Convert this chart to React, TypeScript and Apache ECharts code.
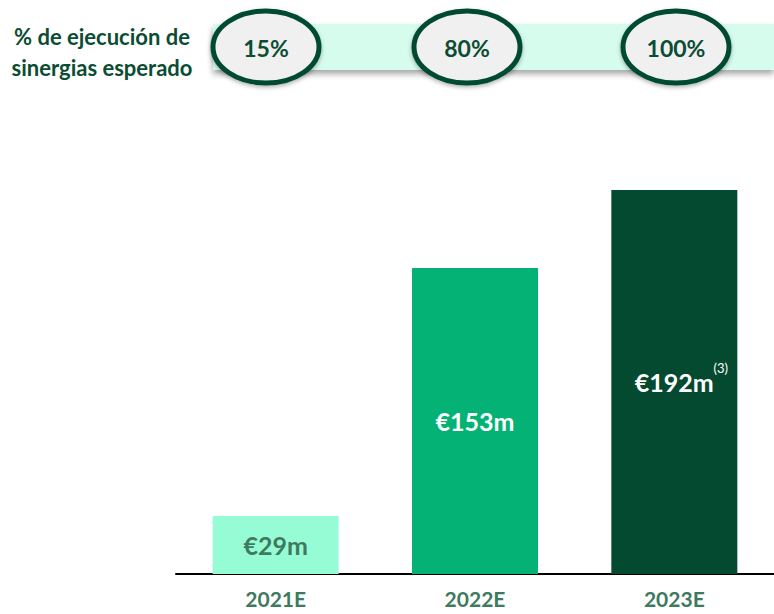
import React, { useEffect, useRef } from "react";
import * as echarts from "echarts";

const categories = ["2021E", "2022E", "2023E"];
const values = [29, 153, 192];
const labels = ["€29m", "€153m", "€192m"];
const footnotes = ["", "", "(3)"];
const barColors = ["#96FCD6", "#05B276", "#044A30"];
const labelColors = ["#3F7A5E", "#FFFFFF", "#FFFFFF"];
const executionPct = ["15%", "80%", "100%"];
const executionTitle = ["% de ejecución de", "sinergias esperado"];

const FONT = "Lato, 'Noto Sans', sans-serif";

export default function App() {
  const ref = useRef<HTMLDivElement>(null);
  useEffect(() => {
    if (!ref.current) return;
    const chart = echarts.init(ref.current, null, { renderer: "svg" });
    const ellipseX = [266, 467, 676];
    const graphics: any[] = [
      {
        type: "rect",
        shape: { x: 213, y: 24, width: 561, height: 46 },
        style: {
          fill: "#D6FCEE",
          shadowBlur: 6,
          shadowOffsetY: 4,
          shadowColor: "rgba(0,0,0,0.35)",
        },
        z: 1,
      },
      {
        type: "text",
        x: 102,
        y: 52,
        style: {
          text: executionTitle.join("\n"),
          font: `bold 22px ${FONT}`,
          fill: "#0B4D33",
          align: "center",
          verticalAlign: "middle",
          lineHeight: 31,
        },
        z: 3,
      },
    ];
    executionPct.forEach((p, i) => {
      graphics.push({
        type: "ellipse",
        shape: { cx: ellipseX[i], cy: 47, rx: 53, ry: 36 },
        style: {
          fill: "#F0F0F0",
          stroke: "#044A30",
          lineWidth: 5,
          shadowBlur: 4,
          shadowOffsetY: 2,
          shadowColor: "rgba(0,0,0,0.3)",
        },
        z: 2,
      });
      graphics.push({
        type: "text",
        x: ellipseX[i],
        y: 48,
        style: {
          text: p,
          font: `bold 23px ${FONT}`,
          fill: "#0B4D33",
          align: "center",
          verticalAlign: "middle",
        },
        z: 3,
      });
    });

    chart.setOption({
      animation: false,
      grid: { left: 176, right: 0, top: 190, bottom: 40, containLabel: false },
      xAxis: {
        type: "category",
        data: categories,
        axisLine: { show: true, lineStyle: { color: "#000", width: 2 } },
        axisTick: { show: false },
        axisLabel: {
          margin: 14,
          fontFamily: FONT,
          fontWeight: "bold",
          fontSize: 21,
          color: "#3D7A5E",
        },
      },
      yAxis: {
        type: "value",
        min: 0,
        max: 192,
        show: false,
        splitLine: { show: false },
      },
      graphic: graphics,
      series: [
        {
          type: "bar",
          barWidth: 126,
          data: values.map((v, i) => ({
            value: v,
            itemStyle: { color: barColors[i] },
            label: {
              show: true,
              position: "inside",
              offset: footnotes[i] ? [7, 0] : [0, 0],
              formatter: footnotes[i]
                ? `{a|${labels[i]}}{s|${footnotes[i]}}`
                : `{a|${labels[i]}}`,
              rich: {
                a: {
                  fontFamily: FONT,
                  fontWeight: "bold",
                  fontSize: 25,
                  color: labelColors[i],
                },
                s: {
                  fontFamily: FONT,
                  fontSize: 13,
                  color: labelColors[i],
                  verticalAlign: "top",
                  padding: [0, 0, 28, 0],
                },
              },
            },
          })),
        },
      ],
    });
    return () => chart.dispose();
  }, []);
  return (
    <div
      ref={ref}
      style={{ position: "fixed", left: 0, top: 0, width: 774, height: 614, background: "#fff" }}
    />
  );
}
